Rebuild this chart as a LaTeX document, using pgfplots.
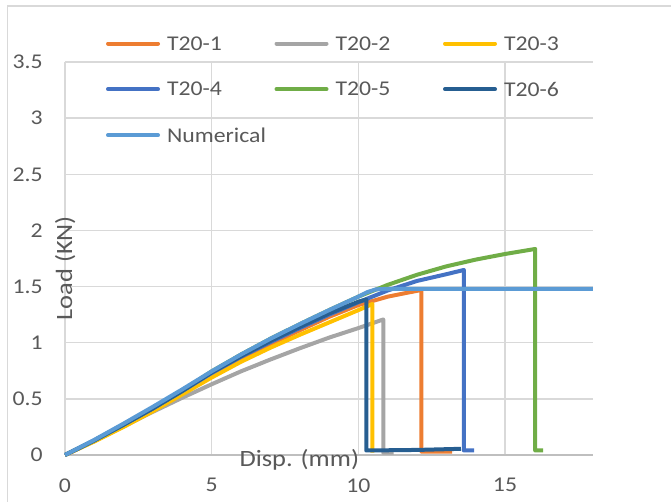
\documentclass[border=0pt]{standalone}
\usepackage{pgfplots}
\pgfplotsset{compat=1.18}
\usepackage{fontspec}
\setmainfont{Carlito}[FakeStretch=1.13]
\definecolor{c1}{RGB}{237,125,49}
\definecolor{c2}{RGB}{165,165,165}
\definecolor{c3}{RGB}{255,192,0}
\definecolor{c4}{RGB}{68,114,196}
\definecolor{c5}{RGB}{112,173,71}
\definecolor{c6}{RGB}{38,94,145}
\definecolor{c7}{RGB}{91,155,213}
\definecolor{txt}{RGB}{89,89,89}
\definecolor{grd}{RGB}{217,217,217}
\definecolor{axl}{RGB}{191,191,191}
\begin{document}
\begin{tikzpicture}
\useasboundingbox (0,0) rectangle (335.5pt,251pt);
\draw[grd, line width=0.75pt] (3.75pt,-5pt) -- (3.75pt,248pt) -- (340pt,248pt);
\begin{axis}[
  at={(32.5pt,23.5pt)}, anchor=south west,
  scale only axis, width=264pt, height=196.5pt,
  xmin=0, xmax=18, ymin=0, ymax=3.5,
  xtick={0,5,10,15}, ytick={0,0.5,1,1.5,2,2.5,3,3.5},
  grid=major, major grid style={grd, line width=0.75pt},
  axis line style={draw=none},
  major tick length=0pt,
  extra y ticks={0}, extra y tick labels={},
  extra y tick style={grid=major, major grid style={axl, line width=0.75pt}},
  tick label style={font=\fontsize{10.5}{12}\selectfont, text=txt, inner sep=0pt},
  /pgf/number format/assume math mode=true,
  yticklabel style={anchor=east, xshift=-11pt},
  xticklabel style={anchor=north, yshift=-11.5pt},
  xlabel={Disp. (mm)}, ylabel={Load (KN)},
  label style={font=\fontsize{11.7}{14}\selectfont, text=txt, inner sep=0pt},
  xlabel style={at={(axis description cs:0.4438,-0.0305)}, anchor=base},
  ylabel style={at={(axis description cs:0.01326,0.475)}, anchor=base},
  clip=false,
  legend columns=3,
  legend style={at={(axis description cs:0.0777,1.0644)}, anchor=north west,
    draw=none, fill=none, inner sep=0pt, outer sep=0pt,
    font=\fontsize{10.5}{12}\selectfont, text=txt, row sep=15.86pt,
    nodes={inner sep=0pt, text depth=0pt}},
  legend image code/.code={\draw[#1, line cap=round] (0pt,0pt) -- (25pt,0pt);},
  every axis plot/.append style={line width=2pt, line join=round, no marks},
]
\addplot[c1] coordinates {(0,0) (1,0.125) (2,0.26) (3,0.405) (4,0.56) (5,0.715) (6,0.855) (7,0.985) (8,1.11) (9,1.23) (10,1.335) (11,1.41) (12.15,1.47) (12.15,0.03) (13.2,0.03)};
\addlegendentry{\makebox[57.25pt][l]{\hspace{3.5pt}T20-1}}
\addplot[c2] coordinates {(0,0) (1,0.125) (2,0.255) (3,0.385) (4,0.51) (5,0.63) (6,0.745) (7,0.85) (8,0.95) (9,1.045) (10,1.13) (10.85,1.207) (10.85,0.02) (11.2,0.02)};
\addlegendentry{\makebox[57.25pt][l]{\hspace{3.5pt}T20-2}}
\addplot[c3] coordinates {(0,0) (1,0.12) (2,0.25) (3,0.39) (4,0.54) (5,0.69) (6,0.83) (7,0.955) (8,1.07) (9,1.18) (10,1.29) (10.48,1.345) (10.48,0.02)};
\addlegendentry{\makebox[57.25pt][l]{\hspace{3.5pt}T20-3}}
\addplot[c4] coordinates {(0,0) (1,0.13) (2,0.27) (3,0.415) (4,0.57) (5,0.73) (6,0.875) (7,1.005) (8,1.13) (9,1.25) (10,1.36) (11,1.465) (12,1.55) (13,1.61) (13.6,1.648) (13.6,0.04) (13.95,0.04)};
\addlegendentry{\makebox[57.25pt][l]{\hspace{3.5pt}T20-4}}
\addplot[c5] coordinates {(0,0) (1,0.13) (2,0.27) (3,0.42) (4,0.575) (5,0.745) (6,0.895) (7,1.035) (8,1.165) (9,1.29) (10,1.41) (11,1.515) (12,1.605) (13,1.68) (14,1.74) (15,1.79) (16.03,1.835) (16.03,0.04) (16.3,0.04)};
\addlegendentry{\makebox[57.25pt][l]{\hspace{3.5pt}T20-5}}
\addplot[c6] coordinates {(0,0) (1,0.13) (2,0.27) (3,0.415) (4,0.57) (5,0.735) (6,0.88) (7,1.015) (8,1.14) (9,1.26) (10,1.365) (10.27,1.385) (10.27,0.04) (12,0.045) (13.5,0.055)};
\addlegendentry{\makebox[57.25pt][l]{\hspace{3.5pt}T20-6}}
\addplot[c7] coordinates {(0,0) (1,0.135) (2,0.28) (3,0.43) (4,0.585) (5,0.745) (6,0.895) (7,1.035) (8,1.165) (9,1.29) (9.5,1.35) (10,1.41) (10.3,1.45) (10.6,1.475) (11,1.48) (18,1.48)};
\addlegendentry{\makebox[57.25pt][l]{\hspace{3.5pt}Numerical}}
\end{axis}
\end{tikzpicture}
\end{document}
